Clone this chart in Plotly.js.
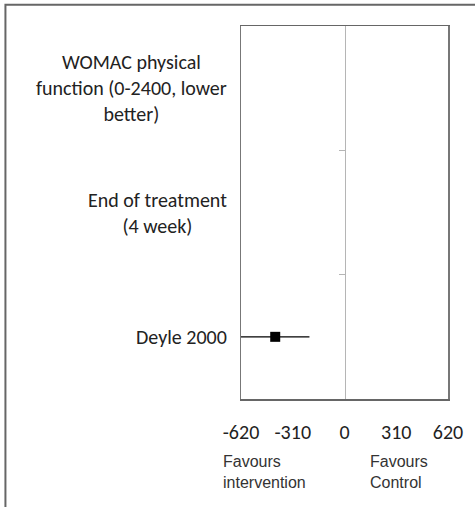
<!DOCTYPE html>
<html>
<head>
<meta charset="utf-8">
<script src="https://cdn.plot.ly/plotly-3.0.1.min.js"></script>
<style>
html,body{margin:0;padding:0;background:#fff;}
#chart{width:475px;height:507px;}
</style>
</head>
<body>
<div id="chart"></div>
<script>
// Rows from bottom to top
var rowLabels = ["Deyle 2000", "End of treatment<br>(4 week)", "WOMAC physical<br>function (0-2400, lower<br>better)"];
var studies = ["Deyle 2000"];
var estimates = [-415];
var ciLower = [-620];
var ciUpper = [-210];
var tickValues = [-620, -310, 0, 310, 620];
var tickLabels = ["-620", "-310", "0", "310", "620"];
var favourLabels = ["Favours<br>intervention", "Favours<br>Control"];

var rowIndex = studies.map(function(s){ return rowLabels.indexOf(s); });
var boundaries = [];
for (var i = 0; i < rowLabels.length - 1; i++) boundaries.push(i + 0.5);

var traces = [{
  type: 'scatter',
  mode: 'markers',
  x: estimates,
  y: rowIndex,
  marker: {symbol: 'square', size: 10, color: '#000'},
  error_x: {
    type: 'data', symmetric: false,
    array: estimates.map(function(e, k){ return ciUpper[k] - e; }),
    arrayminus: estimates.map(function(e, k){ return e - ciLower[k]; }),
    color: '#000', thickness: 1.2, width: 0
  },
  hoverinfo: 'skip', showlegend: false, cliponaxis: true
}, {
  type: 'scatter', mode: 'none', x: [null], y: [0], yaxis: 'y2',
  hoverinfo: 'skip', showlegend: false
}];

var labelFont = {family: 'Carlito, Lato, sans-serif', size: 20, color: '#222'};
var annotations = rowLabels.map(function(t, k){
  return {text: t, xref: 'paper', yref: 'y', x: -0.058, y: k,
    xanchor: 'right', yanchor: 'middle', align: 'center', showarrow: false, font: labelFont};
});
var favFont = {family: 'Liberation Sans, Arial, sans-serif', size: 16, color: '#333'};
annotations.push({text: favourLabels[0], xref: 'paper', yref: 'paper', x: -0.095, y: -0.14,
  xanchor: 'left', yanchor: 'top', align: 'left', showarrow: false, font: favFont});
annotations.push({text: favourLabels[1], xref: 'paper', yref: 'paper', x: 0.615, y: -0.14,
  xanchor: 'left', yanchor: 'top', align: 'left', showarrow: false, font: favFont});

var layout = {
  width: 475, height: 507,
  margin: {l: 241, r: 27, t: 26, b: 108, pad: 0},
  paper_bgcolor: '#fff', plot_bgcolor: '#fff',
  showlegend: false,
  xaxis: {
    range: [-620, 620], tickvals: tickValues, ticktext: tickLabels,
    showgrid: false, zeroline: false, showline: true, mirror: true,
    linecolor: '#666', linewidth: 1.5,
    ticks: 'outside', ticklen: 14, tickcolor: 'rgba(0,0,0,0)',
    tickfont: labelFont,
    fixedrange: true
  },
  yaxis: {
    range: [-0.5, rowLabels.length - 0.5], showticklabels: false, ticks: '',
    showgrid: false, zeroline: false, showline: true, mirror: true,
    linecolor: '#777', linewidth: 1.5, fixedrange: true
  },
  yaxis2: {
    overlaying: 'y', anchor: 'free', position: 0.5, side: 'left',
    range: [-0.5, rowLabels.length - 0.5], tickvals: boundaries, showticklabels: false,
    ticks: 'outside', ticklen: 6, tickcolor: '#b5b5b5', tickwidth: 1,
    showline: true, linecolor: '#b5b5b5', linewidth: 1.2,
    showgrid: false, zeroline: false, fixedrange: true
  },
  annotations: annotations,
  shapes: [{
    type: 'rect', xref: 'paper', yref: 'paper',
    x0: -1.138, x1: 1.2, y0: -0.32, y1: 1.057,
    line: {color: '#666', width: 2}, fillcolor: 'rgba(0,0,0,0)', layer: 'below'
  }]
};

Plotly.newPlot('chart', traces, layout, {displayModeBar: false, staticPlot: true});
</script>
</body>
</html>
